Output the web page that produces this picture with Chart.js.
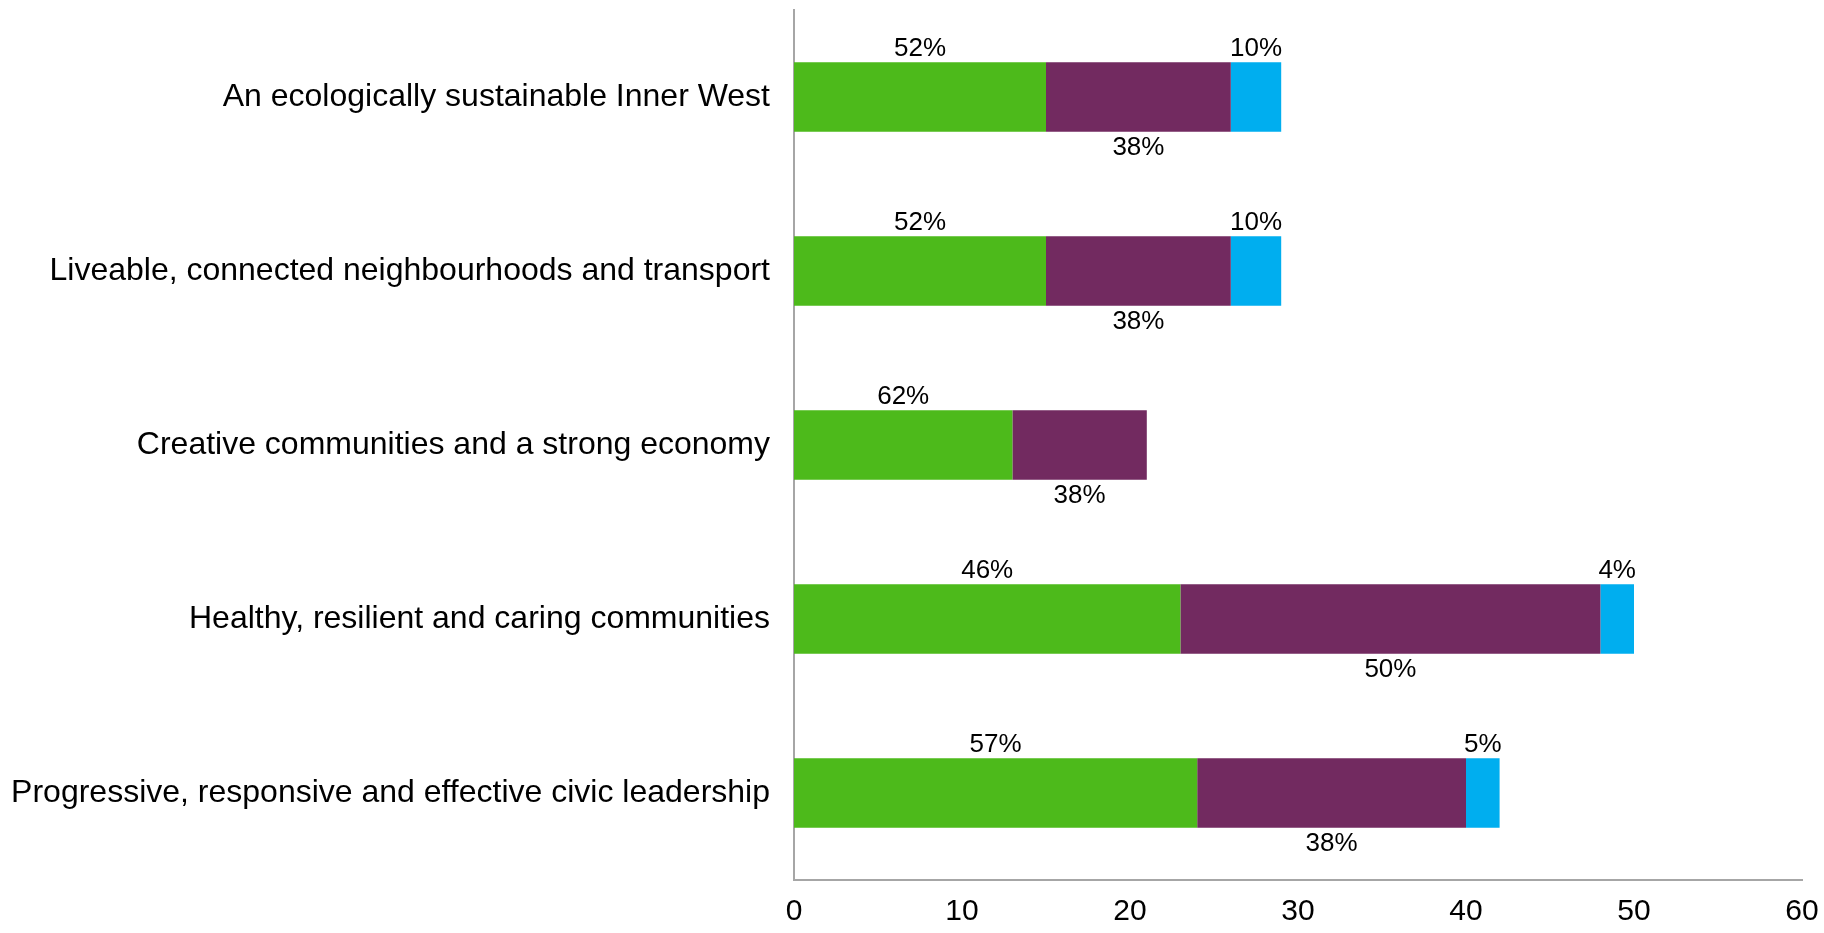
<!DOCTYPE html>
<html>
<head>
<meta charset="utf-8">
<script src="https://cdn.jsdelivr.net/npm/chart.js@4.4.0/dist/chart.umd.min.js"></script>
<style>
  html, body { margin: 0; padding: 0; background: #fff; }
  #wrap { width: 1824px; height: 933px; }
</style>
</head>
<body>
<div id="wrap"><canvas id="barChart" width="1824" height="933"></canvas></div>
<script>
/* ── data ── */
const categories = [
  "An ecologically sustainable Inner West",
  "Liveable, connected neighbourhoods and transport",
  "Creative communities and a strong economy",
  "Healthy, resilient and caring communities",
  "Progressive, responsive and effective civic leadership"
];
const greenValues  = [15, 15, 13, 23, 24];
const purpleValues = [11, 11, 8, 25, 16];
const blueValues   = [3, 3, 0, 2, 2];
const xTicks = [0, 10, 20, 30, 40, 50, 60];

const FONT = "'Liberation Sans', Arial, sans-serif";

/* ── percentage labels (green/blue above, purple below) ── */
const pctLabels = {
  id: 'pctLabels',
  afterDatasetsDraw(chart) {
    const ctx = chart.ctx;
    ctx.save();
    ctx.font = '26px ' + FONT;
    ctx.fillStyle = '#000';
    ctx.textAlign = 'center';
    ctx.textBaseline = 'alphabetic';
    chart.data.datasets.forEach((ds, di) => {
      const meta = chart.getDatasetMeta(di);
      meta.data.forEach((bar, i) => {
        const v = ds.data[i];
        if (!v) return;
        const total = chart.data.datasets.reduce((s, d) => s + (d.data[i] || 0), 0);
        const txt = Math.round(v / total * 100) + '%';
        const cx = (bar.x + bar.base) / 2;
        const top = bar.y - bar.height / 2;
        const bottom = bar.y + bar.height / 2;
        if (ds.labelPos === 'below') {
          ctx.fillText(txt, cx, bottom + 23);
        } else {
          ctx.fillText(txt, cx, top - 6);
        }
      });
    });
    ctx.restore();
  }
};

new Chart(document.getElementById('barChart'), {
  type: 'bar',
  data: {
    labels: categories,
    datasets: [
      { label: 'green', data: greenValues, backgroundColor: '#4DBA1B', labelPos: 'above' },
      { label: 'purple', data: purpleValues, backgroundColor: '#722A60', labelPos: 'below' },
      { label: 'blue', data: blueValues, backgroundColor: '#00AEEF', labelPos: 'above' }
    ]
  },
  options: {
    indexAxis: 'y',
    responsive: false,
    animation: false,
    layout: { padding: { top: 10, right: 22, bottom: 0, left: 0 } },
    datasets: { bar: { barPercentage: 0.4, categoryPercentage: 1 } },
    plugins: { legend: { display: false }, tooltip: { enabled: false } },
    scales: {
      x: {
        stacked: true,
        min: 0, max: 60,
        afterBuildTicks: s => { s.ticks = xTicks.map(v => ({ value: v })); },
        afterFit: s => { s.height = 53; s.paddingLeft = 0; s.paddingRight = 0; },
        grid: { display: false },
        border: { display: true, color: '#A6A6A6', width: 2 },
        ticks: { color: '#000', padding: 6, font: { family: FONT, size: 30 } }
      },
      y: {
        stacked: true,
        afterFit: s => { s.width = 794; s.paddingTop = 0; s.paddingBottom = 0; },
        grid: { display: false },
        border: { display: true, color: '#A6A6A6', width: 2 },
        ticks: { color: '#000', padding: 16, font: { family: FONT, size: 32 } }
      }
    }
  },
  plugins: [pctLabels]
});
</script>
</body>
</html>
